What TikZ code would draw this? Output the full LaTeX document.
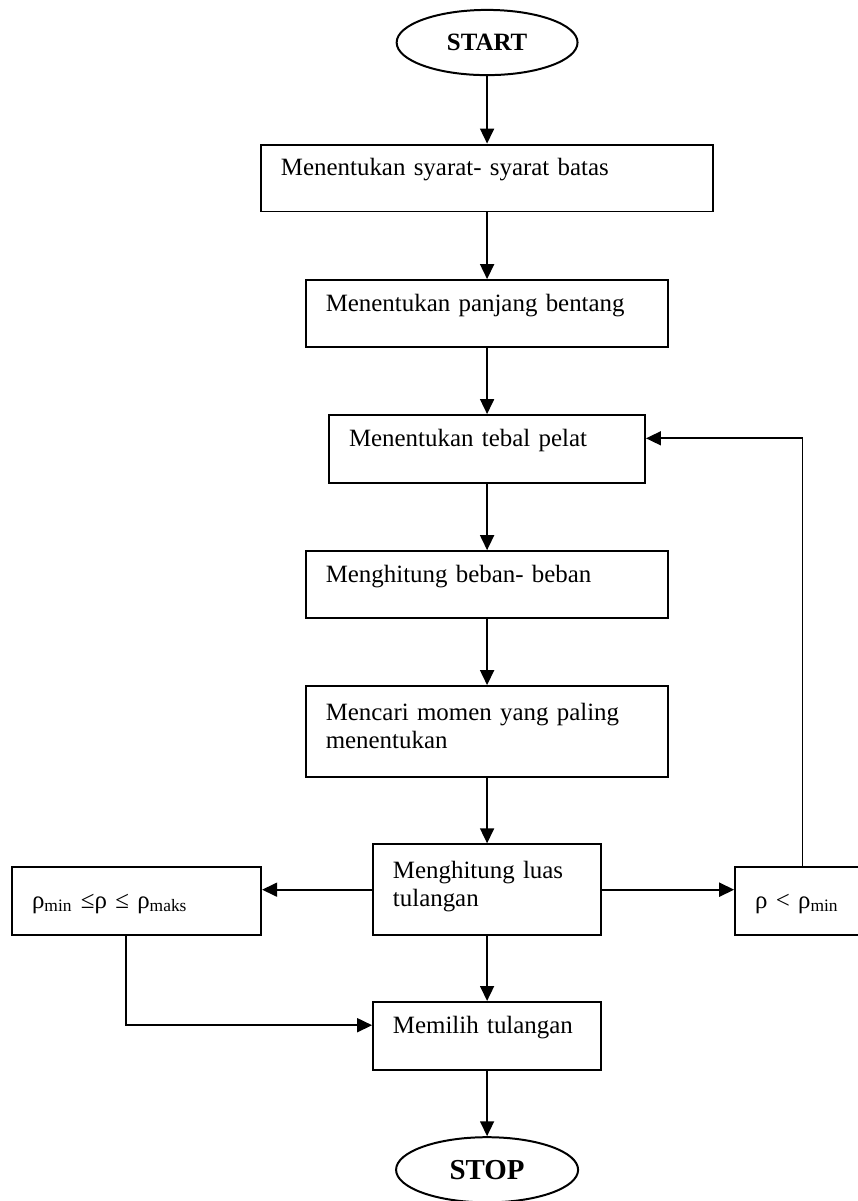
\documentclass[tikz,border=0pt]{standalone}
\usepackage{fontspec}
\setmainfont{Liberation Serif}
\usetikzlibrary{arrows.meta,calc,positioning,shapes.geometric}

\begin{document}
\begin{tikzpicture}[
  x=1cm,y=1cm,font=\fontsize{12.5}{14}\selectfont,
  flow/.style={-{Triangle[length=7.5pt,width=7pt]},draw=black,line width=0.85pt},
  term/.style={ellipse,draw=black,line width=1pt,inner sep=0pt,
    minimum height=1.15cm,font=\bfseries\fontsize{12.5}{14}\selectfont},
  proc/.style={rectangle,draw=black,line width=1pt,inner xsep=0.35cm,
    inner ysep=0pt,align=left,minimum height=1.18cm,
    text height=10pt,text depth=12.5pt},
  tall/.style={proc,minimum height=1.6cm,text depth=21pt},
  cond/.style={proc,minimum height=1.2cm,text depth=3pt}
]
\useasboundingbox (0,0) rectangle (15.12,21.18);

% Main column of the procedure, top to bottom.
\node[term,minimum width=3.19cm] (start) at (8.59,20.43) {START};
\node[proc,text width=7.27cm] (syarat) at (8.59,18.04)
  {Menentukan syarat- syarat batas};
\node[proc,text width=5.69cm] (bentang) at (8.59,15.65)
  {Menentukan panjang bentang};
\node[proc,text width=4.87cm,minimum height=1.2cm] (tebal) at (8.59,13.26)
  {Menentukan tebal pelat};
\node[proc,text width=5.69cm] (beban) at (8.59,10.87)
  {Menghitung beban- beban};
\node[tall,text width=5.69cm] (momen) at (8.59,8.28)
  {Mencari momen yang paling\\menentukan};
\node[tall,text width=3.32cm] (luas) at (8.59,5.49)
  {Menghitung luas\\tulangan};
\node[proc,text width=3.32cm,minimum height=1.2cm] (pilih) at (8.59,2.91)
  {Memilih tulangan};
\node[term,minimum width=3.21cm,font=\bfseries\fontsize{14.5}{16}\selectfont]
  (stop) at (8.59,0.55) {STOP};

% The two checks on the reinforcement ratio (right box runs off the page).
\node[cond,text width=3.69cm] (cukup) at (2.41,5.29)
  {ρ\textsubscript{min} ≤ρ ≤ ρ\textsubscript{maks}};
\node[cond,text width=2.21cm] (kecil) at (14.42,5.29)
  {ρ < ρ\textsubscript{min}};

\draw[flow] (start) -- (syarat);
\draw[flow] (syarat) -- (bentang);
\draw[flow] (bentang) -- (tebal);
\draw[flow] (tebal) -- (beban);
\draw[flow] (beban) -- (momen);
\draw[flow] (momen) -- (luas);
\draw[flow] (luas) -- (pilih);
\draw[flow] (pilih) -- (stop);

\draw[flow] (luas.west) -- (luas.west -| cukup.east);
\draw[flow] (luas.east) -- (luas.east -| kecil.west);
\draw[flow] ([xshift=-0.19cm]cukup.south) |- ([yshift=0.19cm]pilih.west);
% Too little steel: back to the slab thickness.
\draw[flow] ([xshift=-0.27cm]kecil.north) |- ([yshift=0.19cm]tebal.east);

\end{tikzpicture}
\end{document}
